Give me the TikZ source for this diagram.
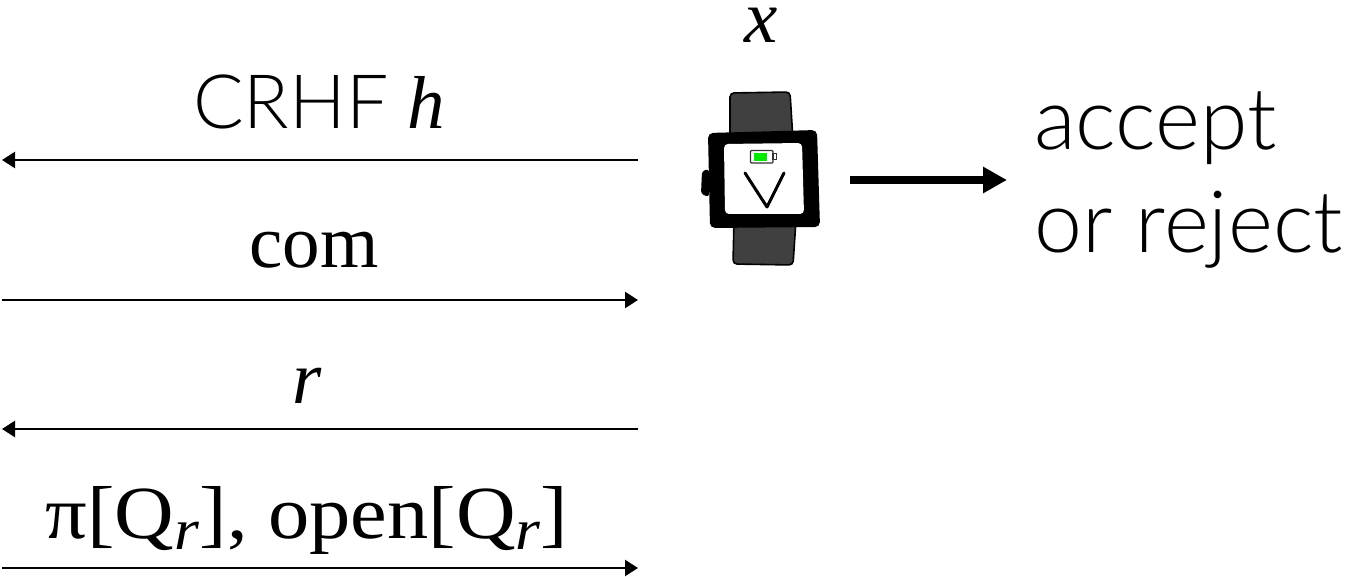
\documentclass[tikz,border=0pt]{standalone}
\usepackage{fontspec}
\setmainfont{Liberation Serif}
\newfontfamily\lightsans{Lato Light}
\newfontfamily\wideserif[FakeStretch=1.1,ItalicFont={Liberation Serif Italic}]{Liberation Serif}
\usetikzlibrary{arrows.meta}
\definecolor{batgreen}{RGB}{0,235,0}
\tikzset{
  msg/.style={line width=2.6pt,-{Triangle[length=13pt,width=16pt]}},
  big/.style={-{Triangle[length=24pt,width=25pt]},line width=8pt},
  lab/.style={anchor=base,inner sep=0pt,font=\fontsize{75}{75}\selectfont},
  sans/.style={anchor=base west,inner sep=0pt,font=\fontsize{86}{86}\selectfont\lightsans},
  strap/.style={fill=black!75,draw=black,line width=1.6pt,rounded corners=4pt},
}
\newcommand{\subr}{\raisebox{-11pt}{\fontsize{58}{58}\selectfont\textit{r}}}
\begin{document}
\begin{tikzpicture}[x=1pt,y=-1pt]
\useasboundingbox (0,0) rectangle (1345,577);
% connectors
\coordinate (r1) at (638,160); \coordinate (l1) at (2,160);
\coordinate (r2) at (638,300); \coordinate (l2) at (2,300);
\coordinate (r3) at (638,429); \coordinate (l3) at (2,429);
\coordinate (r4) at (638,568); \coordinate (l4) at (2,568);
\draw[msg] (r1) -- (l1);
\draw[msg] (l2) -- (r2);
\draw[msg] (r3) -- (l3);
\draw[msg] (l4) -- (r4);
% labels
\node[lab] (crhf) at (319,129) {{\lightsans CRHF} \textit{h}};
\node[lab] (com) at (314,268) {com};
\node[lab] (rlab) at (307,403) {\textit{r}};
\node[lab] (pi) at (307,538) {\wideserif π[Q\subr], open[Q\subr]};
\node[lab] (xlab) at (761,43) {\textit{x}};
\node[sans] (acc) at (1034,150) {accept};
\node[sans] (rej) at (1034,253) {or reject};
% watch
\path[strap] (730,140) -- (730,93) -- (790,92) -- (793,140) -- cycle;
\path[strap] (734,220) -- (733,264) -- (793,265) -- (796,220) -- cycle;
\fill[black,rounded corners=3pt] (709,169) -- (702,171) -- (701,194) -- (709,197) -- cycle;
\fill[black,rounded corners=5pt] (708,133) -- (817,130) -- (820,227) -- (710,228) -- cycle;
\fill[white,rounded corners=4pt] (724,144) -- (802,143) -- (804,214) -- (725,214) -- cycle;
\draw[black!80,line width=1.4pt,fill=white,rounded corners=1pt] (750.5,150.5) rectangle (773,163);
\draw[black!80,line width=1.2pt,fill=white] (773,153.5) rectangle (776.5,159.5);
\fill[batgreen] (753.5,153) rectangle (767,161);
\draw[line width=3pt,line cap=round,line join=round] (745,173) -- (767,207) -- (784,173);
% big arrow
\coordinate (bs) at (850,180); \coordinate (be) at (1007,180);
\draw[big] (bs) -- (be);
\end{tikzpicture}
\end{document}
